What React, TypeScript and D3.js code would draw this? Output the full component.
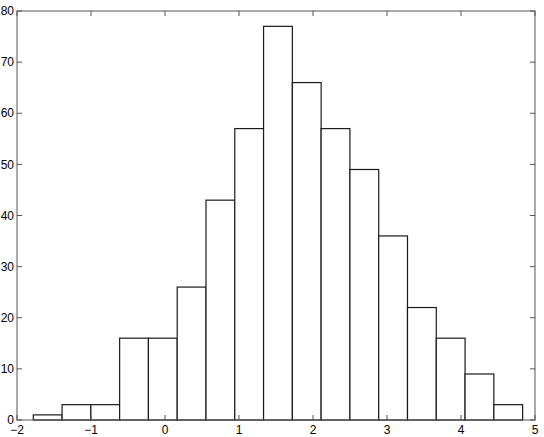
import React, { useRef, useEffect } from "react";
import * as d3 from "d3";

// histogram bin edges (left edge of each bar, plus last right edge)
const binEdges = [
  -1.78, -1.391, -1.002, -0.613, -0.224, 0.165, 0.554, 0.943, 1.332, 1.721,
  2.11, 2.499, 2.888, 3.277, 3.666, 4.055, 4.444, 4.833,
];
const counts = [1, 3, 3, 16, 16, 26, 43, 57, 77, 66, 57, 49, 36, 22, 16, 9, 3];
const xTicks = [-2, -1, 0, 1, 2, 3, 4, 5];
const yTicks = [0, 10, 20, 30, 40, 50, 60, 70, 80];

const Histogram = () => {
  const svgRef = useRef<SVGSVGElement>(null);

  useEffect(() => {
    const svg = d3.select(svgRef.current);
    svg.selectAll("*").remove();

    const width = 544;
    const height = 437;
    const margin = { top: 11, right: 9, bottom: 17, left: 17 };

    const x = d3
      .scaleLinear()
      .domain([-2, 5])
      .range([margin.left, width - margin.right]);
    const y = d3
      .scaleLinear()
      .domain([0, 80])
      .range([height - margin.bottom, margin.top]);

    const bars = counts.map((c, i) => ({ x0: binEdges[i], x1: binEdges[i + 1], c }));

    // bars
    svg
      .append("g")
      .selectAll("rect")
      .data(bars)
      .enter()
      .append("rect")
      .attr("x", (d) => x(d.x0))
      .attr("y", (d) => y(d.c))
      .attr("width", (d) => x(d.x1) - x(d.x0))
      .attr("height", (d) => y(0) - y(d.c))
      .attr("fill", "white")
      .attr("stroke", "#1a1a1a")
      .attr("stroke-width", 1.2);

    const tickLen = 5;
    const axisColor = "#555";
    const fmt = (v: number) => (v < 0 ? "\u2212" + Math.abs(v) : String(v));

    const g = svg.append("g");

    // box
    g.append("rect")
      .attr("x", x(-2))
      .attr("y", y(80))
      .attr("width", x(5) - x(-2))
      .attr("height", y(0) - y(80))
      .attr("fill", "none")
      .attr("stroke", axisColor)
      .attr("stroke-width", 1);

    // x ticks (bottom + top, inward)
    xTicks.forEach((t) => {
      g.append("line")
        .attr("x1", x(t))
        .attr("x2", x(t))
        .attr("y1", y(0))
        .attr("y2", y(0) - tickLen)
        .attr("stroke", axisColor);
      g.append("line")
        .attr("x1", x(t))
        .attr("x2", x(t))
        .attr("y1", y(80))
        .attr("y2", y(80) + tickLen)
        .attr("stroke", axisColor);
      g.append("text")
        .attr("x", x(t))
        .attr("y", y(0) + 14)
        .attr("text-anchor", "middle")
        .style("font-family", "Liberation Sans, Arial, sans-serif")
        .style("font-size", "12px")
        .style("fill", "#000")
        .text(fmt(t));
    });

    // y ticks (left + right, inward)
    yTicks.forEach((t) => {
      g.append("line")
        .attr("x1", x(-2))
        .attr("x2", x(-2) + tickLen)
        .attr("y1", y(t))
        .attr("y2", y(t))
        .attr("stroke", axisColor);
      g.append("line")
        .attr("x1", x(5))
        .attr("x2", x(5) - tickLen)
        .attr("y1", y(t))
        .attr("y2", y(t))
        .attr("stroke", axisColor);
      g.append("text")
        .attr("x", x(-2) - 3)
        .attr("y", y(t))
        .attr("dy", "0.35em")
        .attr("text-anchor", "end")
        .style("font-family", "Liberation Sans, Arial, sans-serif")
        .style("font-size", "12px")
        .style("fill", "#000")
        .text(fmt(t));
    });
  }, []);

  return (
    <svg
      ref={svgRef}
      width={544}
      height={437}
      style={{ position: "absolute", left: 0, top: 0, background: "white" }}
    ></svg>
  );
};

export default function App() {
  return <Histogram />;
}
